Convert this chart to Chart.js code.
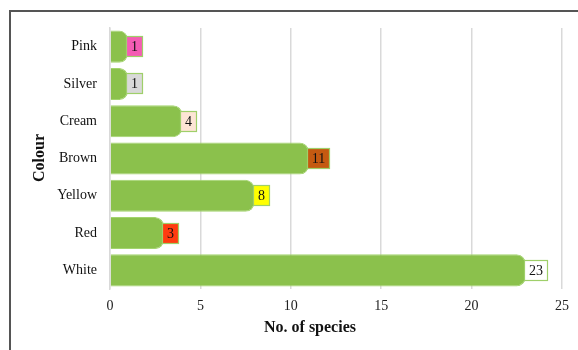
<!DOCTYPE html>
<html>
<head>
<meta charset="utf-8">
<script src="https://cdn.jsdelivr.net/npm/chart.js@4/dist/chart.umd.min.js"></script>
<style>
  html, body { margin: 0; padding: 0; background: #fff; }
  #wrap { width: 578px; height: 350px; position: relative; }
</style>
</head>
<body>
<div id="wrap"><canvas id="chart" width="578" height="350"></canvas></div>
<script>
// Flower colour categories and number of species in each
const colours = ['Pink', 'Silver', 'Cream', 'Brown', 'Yellow', 'Red', 'White'];
const speciesCounts = [1, 1, 4, 11, 8, 3, 23];
// Fill of the value tag next to each bar
const tagFills = ['#f45cb4', '#d9d9d9', '#fde5d5', '#c55a11', '#ffff00', '#ff3c10', '#ffffff'];
const xTicks = [0, 5, 10, 15, 20, 25];
const xTitle = 'No. of species';
const yTitle = 'Colour';

const serif = '"Liberation Serif", "Times New Roman", serif';

// Outer frame: dark rule along the top and left edges
const framePlugin = {
  id: 'frame',
  beforeDraw(chart) {
    const ctx = chart.ctx;
    ctx.save();
    ctx.fillStyle = '#fff';
    ctx.fillRect(0, 0, chart.width, chart.height);
    ctx.fillStyle = '#555';
    ctx.fillRect(9, 10, chart.width - 9, 2);
    ctx.fillRect(9, 10, 2, chart.height - 10);
    ctx.restore();
  }
};

// Axis titles
const titlesPlugin = {
  id: 'axisTitles',
  afterDraw(chart) {
    const ctx = chart.ctx;
    ctx.save();
    ctx.font = 'bold 16px ' + serif;
    ctx.fillStyle = '#111';
    ctx.textAlign = 'center';
    ctx.textBaseline = 'middle';
    ctx.fillText(xTitle, 310, 328);
    ctx.translate(40, 158);
    ctx.rotate(-Math.PI / 2);
    ctx.fillText(yTitle, 0, 0);
    ctx.restore();
  }
};

// Boxed value tags at the end of each bar
const tagPlugin = {
  id: 'valueTags',
  afterDatasetsDraw(chart) {
    const ctx = chart.ctx;
    const meta = chart.getDatasetMeta(0);
    ctx.save();
    ctx.font = '14px ' + serif;
    ctx.textAlign = 'center';
    ctx.textBaseline = 'middle';
    meta.data.forEach((bar, i) => {
      const txt = String(speciesCounts[i]);
      const w = Math.round(ctx.measureText(txt).width + 10);
      const h = 21;
      const x0 = Math.round(bar.x) - 2;
      const y0 = Math.round(bar.y - h / 2);
      ctx.fillStyle = tagFills[i];
      ctx.fillRect(x0, y0, w, h);
      ctx.strokeStyle = '#9fcf6a';
      ctx.lineWidth = 1.2;
      ctx.strokeRect(x0 + 0.5, y0 + 0.5, w - 1, h - 1);
      ctx.fillStyle = '#111';
      ctx.fillText(txt, x0 + w / 2, y0 + h / 2 + 1);
    });
    ctx.restore();
  }
};

new Chart(document.getElementById('chart'), {
  type: 'bar',
  data: {
    labels: colours,
    datasets: [{
      data: speciesCounts,
      backgroundColor: '#8bc14c',
      borderColor: '#a3d46e',
      borderWidth: 1,
      borderRadius: 9,
      borderSkipped: 'start',
      categoryPercentage: 1,
      barPercentage: 0.86
    }]
  },
  options: {
    indexAxis: 'y',
    responsive: false,
    animation: false,
    devicePixelRatio: 1,
    layout: { padding: { top: 28, right: 14, left: 0, bottom: 0 } },
    plugins: { legend: { display: false }, tooltip: { enabled: false } },
    scales: {
      x: {
        min: 0,
        max: 25,
        afterBuildTicks(scale) { scale.ticks = xTicks.map(v => ({ value: v })); },
        afterFit(scale) { scale.height = 61; },
        grid: { color: '#d9d9d9', lineWidth: 1.5, drawTicks: false },
        border: { display: false },
        ticks: { color: '#222', padding: 9, font: { family: serif, size: 14 } },
        title: { display: false }
      },
      y: {
        afterFit(scale) { scale.width = 110; },
        grid: { display: false, drawTicks: false },
        border: { display: true, color: '#d9d9d9', width: 1.5 },
        ticks: { color: '#111', padding: 13, font: { family: serif, size: 14 } },
        title: { display: false }
      }
    }
  },
  plugins: [framePlugin, tagPlugin, titlesPlugin]
});
</script>
</body>
</html>
